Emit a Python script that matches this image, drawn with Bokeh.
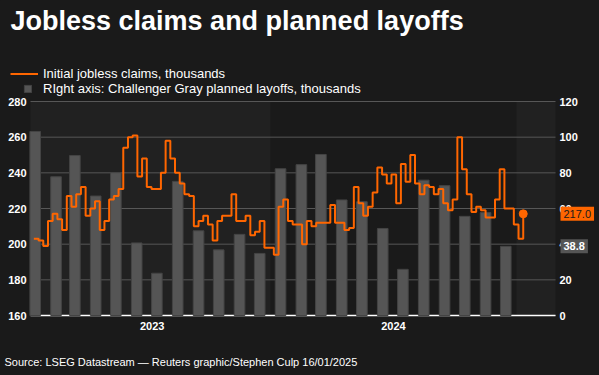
import pandas as pd
from datetime import datetime
from bokeh.plotting import figure
from bokeh.models import (Range1d, LinearAxis, FixedTicker, BoxAnnotation, Label,
                          Legend, LegendItem, ColumnDataSource, DatetimeTickFormatter,
                          GlobalInlineStyleSheet)
from bokeh.embed import file_html
from bokeh.resources import INLINE

# ---------------- data ----------------
title_text = "Jobless claims and planned layoffs"
claims_label = "Initial jobless claims, thousands"
layoffs_label = "RIght axis: Challenger Gray planned layoffs, thousands"
source_text = "Source: LSEG Datastream \u2014 Reuters graphic/Stephen Culp 16/01/2025"

first_week = "2023-01-14"   # weekly, week-ending Saturdays
claims = [203, 202, 199, 213, 217, 214, 208, 227, 221, 228,
          232, 216, 220, 224, 208, 213, 225, 227, 231, 254,
          260, 261, 238, 248, 232, 231, 231, 240, 258, 248,
          240, 234, 228, 227, 210, 213, 216, 211, 202, 213,
          216, 216, 228, 213, 213, 216, 205, 207, 213, 198,
          198, 194, 221, 225, 213, 211, 211,
          200, 213, 210, 212, 212, 212, 222, 212, 212, 208,
          209, 232, 223, 216, 221, 229, 243, 239, 234, 239,
          223, 245, 235, 250, 234, 228, 233, 232, 228, 231,
          223, 219, 225, 260, 242, 228, 218, 221, 219, 215,
          215, 225, 242, 220, 220, 211, 203, 217]

first_month = "2023-01"     # monthly
layoffs = [103.2, 77.8, 89.7, 67.0, 80.1, 40.7, 23.7, 75.2, 47.5, 36.8, 45.5, 34.8,
           82.3, 84.6, 90.3, 64.8, 63.8, 48.8, 25.9, 75.9, 72.8, 55.6, 57.7, 38.8]

left_ticks = [160, 180, 200, 220, 240, 260, 280]
right_ticks = [0, 20, 40, 60, 80, 100, 120]
year_labels = ["2023", "2024"]
shaded_years = [2023, 2025]

# ---------------- layout / styling ----------------
W, H = 599, 375
FL, FR, FT, FB = 30, 555, 101, 315      # chart area in canvas pixels
BG = "#1a1a1a"
BAND = "#212121"
ORANGE = "#ff6600"
BAR = "#555555"
GRID = "#575757"
FONT = "Liberation Sans"

weeks = pd.date_range(first_week, periods=len(claims), freq="7D")
months = pd.date_range(first_month, periods=len(layoffs), freq="MS") + pd.Timedelta(days=15)

x_start = pd.Timestamp(2023, 1, 9)
x_end = pd.Timestamp(2025, 2, 28)
y_lo, y_hi = left_ticks[0], left_ticks[-1]
r_lo, r_hi = right_ticks[0], right_ticks[-1]

epoch = pd.Timestamp("1970-01-01")
def ms(t):
    return (pd.Timestamp(t) - epoch).total_seconds() * 1000.0

# the frame covers the whole canvas; the chart area maps onto FL..FR x FT..FB
xs, xe = ms(x_start), ms(x_end)
ppx = (FR - FL) / (xe - xs)
ppy = (FB - FT) / (y_hi - y_lo)
ppr = (FB - FT) / (r_hi - r_lo)
x_range = Range1d(xs - FL / ppx, xe + (W - FR) / ppx)
y_range = Range1d(y_lo - (H - FB) / ppy, y_hi + FT / ppy)
r_range = Range1d(r_lo - (H - FB) / ppr, r_hi + FT / ppr)

p = figure(width=W, height=H, x_axis_type="datetime", x_range=x_range, y_range=y_range,
           output_backend="svg", toolbar_location=None, min_border=0,
           background_fill_color=BG, border_fill_color=BG, outline_line_color=None)
p.stylesheets = [GlobalInlineStyleSheet(css="html,body{margin:0;padding:0;background:#1a1a1a;overflow:hidden;}")]
p.extra_y_ranges = {"right": r_range}
p.xgrid.visible = False
p.ygrid.visible = False

# alternating year bands, limited to the chart area
for yr in shaded_years:
    a = max(pd.Timestamp(yr, 1, 1), x_start)
    b = min(pd.Timestamp(yr + 1, 1, 1), x_end)
    p.add_layout(BoxAnnotation(left=ms(a), right=ms(b), bottom=y_lo, top=y_hi,
                               fill_color=BAND, fill_alpha=1, line_color=None, level="image"))

# horizontal grid lines and base line
grid_src = ColumnDataSource(dict(x0=[x_start] * len(left_ticks), x1=[x_end] * len(left_ticks),
                                 y=left_ticks))
p.segment(x0="x0", x1="x1", y0="y", y1="y", source=grid_src, line_color=GRID,
          line_width=1, level="underlay")
p.segment(x0=[x_start], x1=[x_end], y0=[y_lo], y1=[y_lo], line_color="#ffffff",
          line_width=1.5, level="underlay")

def style_axis(ax, standoff):
    ax.axis_line_color = None
    ax.major_tick_line_color = None
    ax.minor_tick_line_color = None
    ax.major_tick_out = 0
    ax.major_tick_in = 0
    ax.minor_tick_out = 0
    ax.minor_tick_in = 0
    ax.major_label_text_color = "#ffffff"
    ax.major_label_text_font = FONT
    ax.major_label_text_font_size = "11px"
    ax.major_label_text_font_style = "bold"
    ax.major_label_standoff = standoff

# left axis
la = p.yaxis[0]
style_axis(la, 4)
la.ticker = FixedTicker(ticks=left_ticks)
la.fixed_location = xs

# right axis
raxis = LinearAxis(y_range_name="right", ticker=FixedTicker(ticks=right_ticks))
style_axis(raxis, 4)
raxis.fixed_location = xe
p.add_layout(raxis, "right")

# x axis: year labels centred on visible part of each year
tick_pos = []
for lab in year_labels:
    yv = int(lab)
    a = max(pd.Timestamp(yv, 1, 1), weeks[0])
    b = pd.Timestamp(yv + 1, 1, 1)
    tick_pos.append(ms(a) + (ms(b) - ms(a)) / 2)
xa = p.xaxis[0]
style_axis(xa, 6)
xa.fixed_location = y_lo
xa.ticker = FixedTicker(ticks=tick_pos)
xa.formatter = DatetimeTickFormatter(years="%Y", months="%Y", days="%Y", hours="%Y",
                                     hourmin="%Y", minutes="%Y", minsec="%Y",
                                     seconds="%Y", milliseconds="%Y", microseconds="%Y")

# bars (right axis)
bar_src = ColumnDataSource(dict(month=months, layoffs=layoffs))
bars = p.vbar(x="month", top="layoffs", bottom=0, width=15.8 * 86400000, source=bar_src,
              y_range_name="right", fill_color=BAR, line_color="#444444", line_width=1)

# claims line
line_src = ColumnDataSource(dict(week=weeks, claims=claims))
line = p.step(x="week", y="claims", mode="after", source=line_src,
              line_color=ORANGE, line_width=2)
p.scatter(x=[weeks[-1]], y=[claims[-1]], size=8, color=ORANGE)

# value boxes on the right axis
p.add_layout(Label(x=FR + 5, y=claims[-1], x_units="screen", y_units="data",
                   text=f"{claims[-1]:.1f}", text_font=FONT, text_font_size="11px",
                   text_color="#1a1a1a", text_baseline="middle", text_align="left",
                   background_fill_color=ORANGE, padding=3))
p.add_layout(Label(x=FR + 5, y=layoffs[-1], x_units="screen", y_units="data",
                   y_range_name="right",
                   text=f"{layoffs[-1]:.1f}", text_font=FONT, text_font_size="11px",
                   text_font_style="bold",
                   text_color="#ffffff", text_baseline="middle", text_align="left",
                   background_fill_color="#555555", padding=3))

# legends (screen units measured from the canvas bottom-left)
leg1 = Legend(items=[LegendItem(label=claims_label, renderers=[line])],
              location=(10, H - 80.5),
              glyph_width=28, glyph_height=15, label_height=15, label_standoff=5,
              padding=0, margin=0, spacing=0,
              label_text_font=FONT, label_text_font_size="13px", label_text_color="#ffffff",
              background_fill_alpha=0, border_line_color=None)
leg2 = Legend(items=[LegendItem(label=layoffs_label, renderers=[bars])],
              location=(23, H - 95.5),
              glyph_width=9, glyph_height=9, label_height=15, label_standoff=11,
              padding=0, margin=0, spacing=0,
              label_text_font=FONT, label_text_font_size="13px", label_text_color="#ffffff",
              background_fill_alpha=0, border_line_color=None)
p.add_layout(leg1)
p.add_layout(leg2)

# title & source
p.add_layout(Label(x=10, y=H - 20, x_units="screen", y_units="screen", text=title_text,
                   text_font=FONT, text_font_size="27px", text_font_style="bold",
                   text_color="#ffffff", text_baseline="alphabetic"))
p.add_layout(Label(x=4, y=H - 361, x_units="screen", y_units="screen", text=source_text,
                   text_font=FONT, text_font_size="11px",
                   text_color="#ffffff", text_baseline="alphabetic"))

open("out.html", "w").write(file_html(p, INLINE))
